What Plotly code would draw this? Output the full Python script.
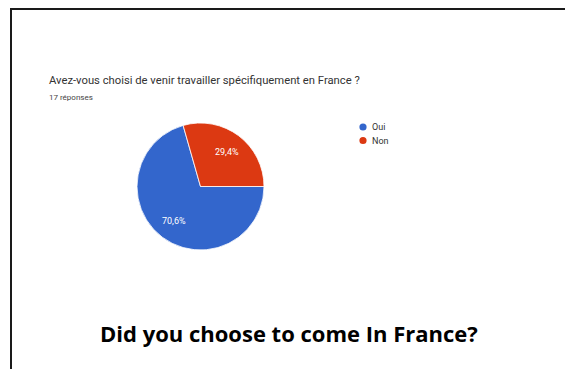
import math
import plotly.graph_objects as go

# Survey answers
categories = ["Oui", "Non"]
counts = [12, 5]
colors = ["#3366cc", "#dc3912"]

question = "Avez-vous choisi de venir travailler spécifiquement en France ?"
total = sum(counts)
subtitle = f"{total} réponses"
caption = "Did you choose to come In France?"

W, H = 565, 369

# Pie placement (pixels) and start angle (degrees clockwise from 12 o'clock)
PIE_CX, PIE_CY, PIE_R = 200.5, 186.5, 63.5
START_DEG = 90
LABEL_RADIUS = 0.69

pct_text = [f"{c / total * 100:.1f}".replace(".", ",") + "%" for c in counts]

fig = go.Figure()

fig.add_trace(go.Pie(
    labels=categories,
    values=counts,
    textinfo="none",
    marker=dict(colors=colors, line=dict(color="white", width=0.8)),
    sort=False,
    direction="clockwise",
    rotation=START_DEG,
    showlegend=False,
    domain=dict(x=[(PIE_CX - PIE_R) / W, (PIE_CX + PIE_R) / W],
                y=[1 - (PIE_CY + PIE_R) / H, 1 - (PIE_CY - PIE_R) / H]),
    hoverinfo="label+percent",
))

annotations = []

# Percentage labels placed at each slice's mid-angle
acc = 0.0
for c, txt in zip(counts, pct_text):
    mid = START_DEG + (acc + c / 2) / total * 360
    acc += c
    a = math.radians(mid)
    px = PIE_CX + LABEL_RADIUS * PIE_R * math.sin(a)
    py = PIE_CY - LABEL_RADIUS * PIE_R * math.cos(a)
    annotations.append(dict(
        text=txt, x=px / W, y=1 - py / H, xref="paper", yref="paper",
        xanchor="center", yanchor="middle", showarrow=False,
        font=dict(family="Roboto, Arial, sans-serif", size=9, color="white"),
    ))

shapes = [
    dict(type="line", xref="paper", yref="paper",
         x0=10 / W, x1=1, y0=1 - 9 / H, y1=1 - 9 / H,
         line=dict(color="#1a1a1a", width=2)),
    dict(type="line", xref="paper", yref="paper",
         x0=11 / W, x1=11 / W, y0=0, y1=1 - 9 / H,
         line=dict(color="#1a1a1a", width=2)),
]

# Legend with round swatches
LEG_X, LEG_Y, LEG_STEP, DOT_R = 363, 127, 13.5, 3.6
for i, (name, col) in enumerate(zip(categories, colors)):
    yy = LEG_Y + i * LEG_STEP
    shapes.append(dict(
        type="circle", xref="paper", yref="paper",
        x0=(LEG_X - DOT_R) / W, x1=(LEG_X + DOT_R) / W,
        y0=1 - (yy + DOT_R) / H, y1=1 - (yy - DOT_R) / H,
        fillcolor=col, line=dict(width=0),
    ))
    annotations.append(dict(
        text=name, x=(LEG_X + 7) / W, y=1 - yy / H, xref="paper", yref="paper",
        xanchor="left", yanchor="middle", showarrow=False,
        font=dict(family="Roboto, Arial, sans-serif", size=9, color="#333333"),
    ))

annotations += [
    dict(text=question, x=47 / W, y=1 - 80 / H, xref="paper", yref="paper",
         xanchor="left", yanchor="middle", showarrow=False,
         font=dict(family="Roboto, Arial, sans-serif", size=11.25, color="#333333")),
    dict(text=subtitle, x=47 / W, y=1 - 97 / H, xref="paper", yref="paper",
         xanchor="left", yanchor="middle", showarrow=False,
         font=dict(family="Roboto, Arial, sans-serif", size=8, color="#444444")),
    dict(text=f"<b>{caption}</b>", x=289 / W, y=1 - 333 / H, xref="paper", yref="paper",
         xanchor="center", yanchor="middle", showarrow=False,
         font=dict(family="Open Sans, Carlito, sans-serif", size=22, color="black")),
]

fig.update_layout(
    width=W, height=H,
    margin=dict(l=0, r=0, t=0, b=0),
    paper_bgcolor="white",
    plot_bgcolor="white",
    showlegend=False,
    annotations=annotations,
    shapes=shapes,
)

fig.write_html("out.html")
